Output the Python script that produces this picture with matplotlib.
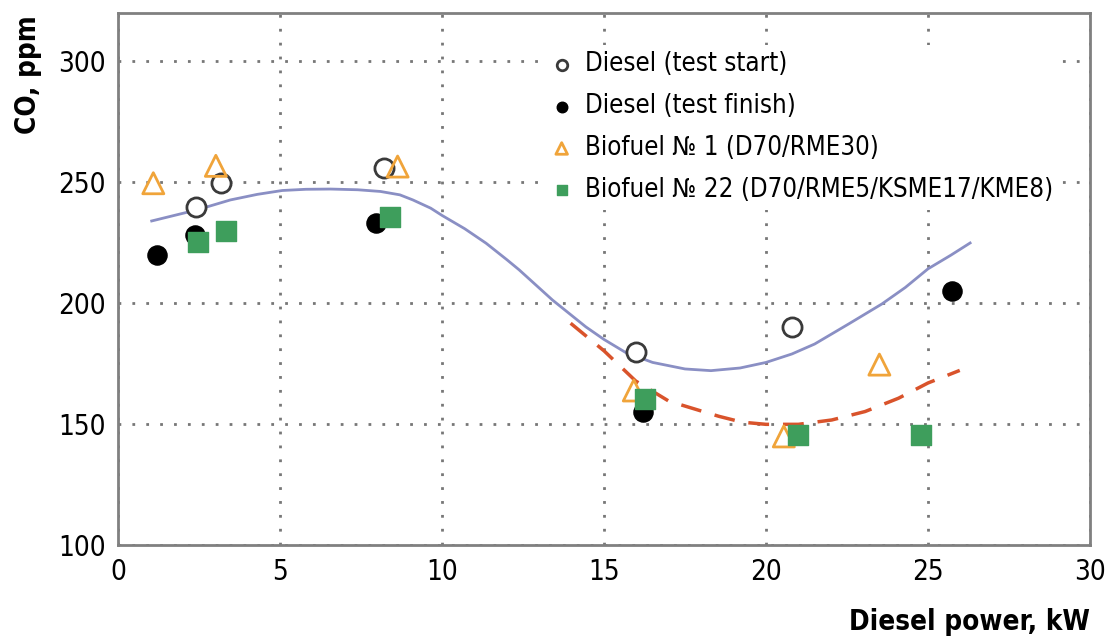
import matplotlib
matplotlib.use("Agg")
import matplotlib.pyplot as plt

plt.rcParams['font.family'] = ['DejaVu Sans']
plt.rcParams['font.stretch'] = 'condensed'

# measured points
start_x = [2.42, 3.19, 8.22, 16.0, 20.8]
start_y = [239.9, 249.6, 255.8, 180.0, 190.0]

finish_x = [1.19, 2.37, 7.97, 16.2, 25.73]
finish_y = [219.8, 228.0, 233.0, 155.0, 205.2]

bio1_x = [1.09, 3.02, 8.63, 15.92, 20.55, 23.5]
bio1_y = [249.6, 256.8, 256.5, 163.9, 144.9, 174.6]

bio22_x = [2.47, 3.32, 8.4, 16.28, 21.0, 24.79]
bio22_y = [225.3, 230.0, 235.7, 160.4, 145.6, 145.6]

# trend lines
blue_x = [1.04, 2.44, 3.47, 4.3, 5.07, 5.8, 6.56, 7.4, 8.1, 8.7, 9.1, 9.65, 10.0, 10.7, 11.36, 12.0, 12.38, 13.41,
          14.44, 15.0, 15.67, 16.5, 17.5, 18.3, 19.2, 20.0, 20.8, 21.5, 22.55, 23.58, 24.3, 25.0, 25.7, 26.3]
blue_y = [234.0, 238.6, 242.7, 245.0, 246.6, 247.1, 247.2, 246.9, 246.2, 244.8, 242.7, 239.3, 236.3, 230.8, 224.8, 218.0, 213.8, 201.3,
          190.2, 185.0, 179.6, 175.5, 172.8, 172.1, 173.2, 175.5, 179.0, 183.1, 191.4, 199.7, 206.5, 214.2, 219.8, 224.9]

red_x = [13.97, 15.0, 15.98, 17.0, 17.93, 18.55, 19.26, 20.0, 21.0, 22.03, 23.06, 24.09, 25.0, 25.98]
red_y = [191.7, 180.3, 167.8, 159.5, 155.7, 153.2, 150.8, 149.9, 149.9, 151.7, 155.2, 160.7, 167.0, 172.2]

fig = plt.figure(figsize=(11.07, 6.39), dpi=100)
ax = fig.add_axes([118/1107, 1-545/639, 972/1107, 532/639])

ax.plot(blue_x, blue_y, color='#8a8fc4', lw=2, zorder=2)
ax.plot(red_x, red_y, color='#d9532b', lw=2.5, dashes=(6, 4), zorder=2)

ax.scatter(start_x, start_y, s=190, facecolors='white', edgecolors='#3a3a3a', linewidths=2, zorder=3,
           label='Diesel (test start)')
ax.scatter(finish_x, finish_y, s=190, color='black', zorder=3, label='Diesel (test finish)')
ax.scatter(bio1_x, bio1_y, s=230, marker='^', facecolors='none', edgecolors='#f0a43a', linewidths=2, zorder=4,
           label='Biofuel № 1 (D70/RME30)')
ax.scatter(bio22_x, bio22_y, s=190, marker='s', color='#3e9e5c', zorder=4,
           label='Biofuel № 22 (D70/RME5/KSME17/KME8)')

ax.set_xlim(0, 30)
ax.set_ylim(100, 320)
ax.set_xticks([0, 5, 10, 15, 20, 25, 30])
ax.set_yticks([100, 150, 200, 250, 300])
ax.grid(True, color='#777777', linestyle=(0, (1, 4)), lw=2)
ax.tick_params(length=0, labelsize=20, pad=9)
for s in ax.spines.values():
    s.set_color('#808080')
    s.set_linewidth(2)

leg = ax.legend(loc='upper left', bbox_to_anchor=(0.434, 0.94), frameon=True, fontsize=18.5,
                markerscale=0.55, handletextpad=0.3, labelspacing=0.62, borderaxespad=0,
                handlelength=1.2, borderpad=0.25, fancybox=False, facecolor='white',
                edgecolor='none', framealpha=1)

fig.text(28/1107, 1-15/639, 'CO, ppm', rotation=90, va='top', ha='center', fontsize=20, weight='bold')
fig.text(1090/1107, 1-622/639, 'Diesel power, kW', ha='right', va='center', fontsize=20, weight='bold')

fig.savefig('out.png', dpi=100)
